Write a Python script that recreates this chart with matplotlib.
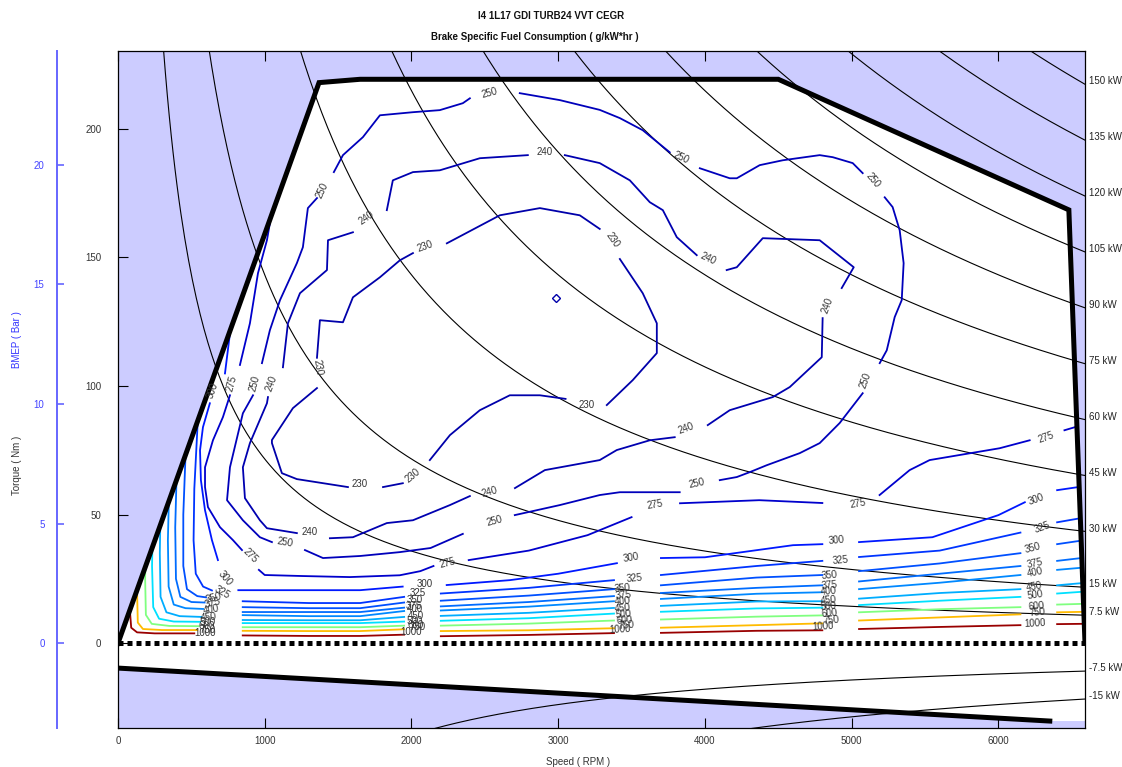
import numpy as np
import matplotlib.pyplot as plt
from matplotlib.patches import Polygon

plt.rcParams['font.family'] = ['Liberation Sans', 'DejaVu Sans']

# ---- engine envelope (rpm, Nm) ----
env_rpm = [0, 1370, 1650, 4500, 6480, 6590]
env_nm = [0, 218.0, 219.3, 219.3, 168.5, 0]
mot_rpm = [0, 6350]
mot_nm = [-9.7, -30.3]
nm_per_bar = 9.30

power_kw = [150, 135, 120, 105, 90, 75, 60, 45, 30, 15, 7.5, -7.5, -15]

# ---- BSFC iso-lines, (rpm, Nm) segments + label spots ----
iso_230 = [
    [(1356, 111), (1376, 125.6), (1533, 124.8), (1601, 134.5), (1785, 142.3), (1921, 148.9), (2010, 151.7)],
    [(2241, 155.5), (2602, 166.4), (2875, 169.2), (3147, 166.4), (3283, 161.1)],
    [(3420, 149.4), (3576, 136.1), (3672, 124.4), (3672, 112.8), (3508, 102.3), (3331, 92.6)],
    [(3050, 95.0), (2875, 96.4), (2670, 96.4), (2466, 90.6), (2262, 80.9), (2125, 71.2)],
    [(1941, 62.2), (1806, 60.7)],
    [(1567, 60.7), (1219, 63.8), (1117, 66.1), (1049, 77.8), (1049, 79), (1192, 91.4), (1356, 99.2)],
]
lab_230 = [(2091, 154.4, 20), (3372, 156.7, -55), (3195, 92.6, 0), (2010, 65.3, 40),
           (1649, 61.8, 0), (1362, 107.3, -80)]

iso_240 = [
    [(1124, 107.3), (1158, 124.4), (1240, 136.1), (1424, 145.1), (1431, 156.7), (1601, 159.8)],
    [(1832, 168.4), (1873, 180), (2010, 183.2), (2193, 183.9), (2466, 188.6), (2793, 189.8)],
    [(3045, 189.8), (3283, 186.7), (3488, 180), (3624, 171.5), (3713, 168.4), (3808, 157.9), (3944, 150.9)],
    [(4148, 145.1), (4217, 146.2), (4394, 157.5), (4782, 156.7), (5014, 146.2), (4932, 138.1)],
    [(4802, 126.4), (4796, 111.2), (4578, 99.6), (4462, 95.7), (4169, 90.6), (4019, 84.8)],
    [(3794, 80.1), (3624, 78.9), (3399, 75.1), (3283, 71.2), (2909, 67.3), (2705, 60.3)],
    [(2398, 57.2), (2262, 53.7), (2010, 47.8), (1832, 46.7), (1601, 41.2), (1444, 40.8)],
    [(1219, 42.8), (1015, 44.7), (967, 47.8), (865, 56.4), (851, 68.4), (899, 77.8), (1015, 93.3), (1022, 95.7)],
]
lab_240 = [(1696, 165.3, 35), (2909, 190.9, 0), (4019, 149.7, -25), (4837, 131.4, 70),
           (3869, 83.6, 20), (2534, 58.7, 15), (1308, 43.2, 0), (1049, 101.1, 70)]

iso_250 = [
    [(1356, 173.1), (1294, 169.2), (1260, 154), (1219, 147.8), (1104, 133.4), (1035, 121.7), (981, 108.9)],
    [(920, 96.4), (851, 89.4), (763, 68.4), (743, 55.6), (851, 47.8), (967, 41.2), (1049, 39.3)],
    [(1274, 36.2), (1397, 33.1), (1650, 33.9), (1920, 35.4), (2130, 37.0), (2350, 42.5)],
    [(2704, 49.8), (3011, 53.7), (3283, 57.6), (3420, 58.7), (3828, 58.7)],
    [(4101, 63.4), (4217, 64.6), (4305, 66.5), (4421, 69.2), (4646, 73.9), (4782, 77.8), (4918, 85.6), (5075, 97.2)],
    [(5191, 108.9), (5239, 113.9), (5293, 126.8), (5341, 133.4), (5354, 147.8), (5327, 160.6), (5279, 169.6), (5225, 173.4)],
    [(5075, 182.8), (5007, 186.7), (4871, 189), (4782, 189.8), (4530, 187.8), (4373, 185.9), (4217, 180.8), (4169, 180.8), (3965, 184.7)],
    [(3760, 190.9), (3576, 199.5), (3420, 204.2), (3283, 207.4), (3011, 211.2), (2738, 213.9)],
    [(2398, 211.9), (2350, 210), (2193, 207.3), (2010, 206.5), (1785, 205.3), (1669, 196.8), (1533, 189.8), (1471, 183.2)],
]
lab_250 = [(933, 101.1, 75), (1138, 39.3, -10), (2568, 47.4, 15), (3944, 62.2, 12), (5095, 102.3, 70),
           (5143, 180.1, -50), (3835, 189.0, -25), (2534, 213.9, 15), (1390, 176.2, 65)]

iso_275 = [
    [(1060, 175), (1035, 163.3), (1015, 156.7), (954, 143.9), (899, 124.4), (831, 108.2)],
    [(763, 96.4), (715, 87.9), (647, 78.9), (593, 68.4), (593, 60.7), (613, 52.9), (695, 45.1), (783, 40.1), (845, 36.2)],
    [(960, 28.5), (1000, 26.5), (1260, 26.1), (1580, 25.7), (1920, 26.4), (2060, 28.0), (2150, 30.0)],
    [(2390, 32.3), (2800, 36.0), (3200, 42.0), (3500, 49.0)],
    [(3830, 54.4), (4370, 55.6), (4800, 54.5)],
    [(5190, 57.6), (5395, 67.3), (5531, 71.2), (6008, 75.8), (6213, 78.9)],
    [(6450, 82.8), (6700, 87.0)],
]
lab_275 = [(777, 101.1, 75), (899, 34.2, -45), (2248, 31.1, 15), (3658, 53.7, 10),
           (5041, 54.4, 10), (6322, 80.1, 20)]

iso_300 = [
    [(790, 135), (763, 120.5), (729, 104.9)],
    [(626, 93.3), (579, 84), (559, 75), (565, 63.4), (593, 51.7), (640, 40.1), (681, 32.3)],
    [(820, 20.6), (1000, 20.6), (1650, 20.6), (1940, 22.0)],
    [(2240, 22.6), (2670, 24.5), (3000, 27.0), (3400, 31.1)],
    [(3700, 33.1), (4000, 33.4), (4600, 38.1), (4800, 38.5)],
    [(5050, 39.3), (5550, 41.2), (6000, 49.8), (6180, 54.8)],
    [(6400, 59.5), (6700, 62.0)],
]
lab_300 = [(647, 98.4, 70), (729, 25.3, -50), (2091, 22.9, 0), (3495, 33.1, 10),
           (4898, 40.1, 5), (6260, 56.0, 20)]

# lower family: left hook + five stretches between the label columns
iso_325 = [
    [(545, 88), (520, 60), (515, 40), (530, 27), (580, 22), (640, 20.5)],
    [(850, 16.3), (1300, 15.6), (1650, 15.6), (1950, 18.0)],
    [(2200, 19.3), (2800, 21.5), (3380, 24.5)],
    [(3700, 26.5), (4350, 30.0), (4800, 32.0)],
    [(5050, 33.5), (5600, 36.0), (6150, 43.0)],
    [(6400, 47.0), (6700, 50.0)],
]
lab_325 = [(708, 19.8, -30), (2044, 19.4, 0), (3522, 25.3, 5), (4925, 32.3, 5), (6301, 45.1, 20)]

iso_350 = [
    [(470, 88), (445, 50), (445, 30), (470, 21), (540, 18.3), (600, 17.8)],
    [(850, 14.0), (1300, 13.6), (1650, 13.6), (1950, 15.8)],
    [(2200, 16.5), (2800, 18.5), (3380, 21.0)],
    [(3700, 22.5), (4350, 25.5), (4800, 26.5)],
    [(5050, 28.0), (5600, 31.0), (6150, 35.0)],
    [(6400, 38.5), (6700, 41.0)],
]
lab_350 = [(654, 17.5, 15), (2023, 16.7, 0), (3440, 21.4, 5), (4850, 26.4, 5), (6233, 36.9, 15)]

iso_375 = [
    [(410, 88), (390, 45), (395, 25), (425, 18), (500, 16.0), (590, 15.8)],
    [(850, 12.1), (1300, 12.1), (1650, 12.1), (1950, 13.8)],
    [(2200, 14.3), (2800, 16.0), (3380, 18.3)],
    [(3700, 19.5), (4350, 21.5), (4800, 22.5)],
    [(5050, 24.0), (5600, 27.0), (6150, 30.0)],
    [(6400, 32.0), (6700, 34.0)],
]
lab_375 = [(647, 15.6, 15), (2016, 14.4, 0), (3447, 18.7, 5), (4850, 22.6, 5), (6247, 31.1, 12)]

iso_400 = [
    [(360, 88), (340, 40), (345, 22), (380, 15), (460, 13.6), (580, 13.3)],
    [(850, 10.9), (1300, 10.5), (1650, 10.5), (1950, 12.5)],
    [(2200, 12.7), (2800, 14.2), (3380, 16.3)],
    [(3700, 17.2), (4350, 19.2), (4800, 19.8)],
    [(5050, 21.0), (5600, 23.5), (6150, 26.5)],
    [(6400, 28.5), (6700, 30.0)],
]
lab_400 = [(634, 13.2, 10), (2023, 13.2, 0), (3440, 16.3, 5), (4843, 20.2, 5), (6247, 27.6, 12)]

iso_450 = [
    [(300, 88), (285, 35), (290, 18), (330, 12), (420, 10.5), (570, 10.2)],
    [(850, 9.0), (1300, 8.9), (1650, 8.9), (1950, 10.2)],
    [(2200, 10.6), (2800, 11.8), (3380, 13.7)],
    [(3700, 14.5), (4350, 16.2), (4800, 16.3)],
    [(5050, 17.3), (5600, 19.5), (6150, 21.0)],
    [(6400, 22.5), (6700, 24.0)],
]
lab_450 = [(620, 10.1, 5), (2030, 10.5, 0), (3440, 13.6, 5), (4843, 16.7, 5), (6247, 21.8, 10)]

iso_500 = [
    [(250, 88), (232, 30), (240, 14), (280, 9.5), (380, 8.4), (560, 8.3)],
    [(850, 7.8), (1300, 7.8), (1650, 7.8), (1950, 8.4)],
    [(2200, 8.7), (2800, 9.7), (3380, 11.5)],
    [(3700, 12.2), (4350, 13.5), (4800, 13.8)],
    [(5050, 14.8), (5600, 16.5), (6150, 18.0)],
    [(6400, 19.3), (6700, 20.5)],
]
lab_500 = [(613, 8.2, 0), (2023, 8.6, 0), (3447, 11.3, 5), (4843, 14.4, 5), (6247, 18.7, 8)]

iso_600 = [
    [(200, 88), (185, 25), (190, 11), (230, 7.5), (350, 6.7), (550, 6.6)],
    [(850, 6.2), (1300, 6.2), (1650, 6.2), (1950, 6.8)],
    [(2200, 6.8), (2800, 7.6), (3380, 8.8)],
    [(3700, 9.2), (4350, 10.3), (4800, 10.8)],
    [(5050, 12.0), (5600, 13.2), (6150, 14.0)],
    [(6400, 15.0), (6700, 15.5)],
]
lab_600 = [(606, 6.6, 0), (2030, 7.0, 0), (3454, 8.9, 5), (4850, 11.7, 5), (6260, 14.4, 5)]

iso_750 = [
    [(150, 88), (130, 20), (135, 8), (170, 5.5), (300, 5.1), (540, 5.1)],
    [(850, 4.8), (1300, 4.7), (1650, 4.7), (1950, 5.4)],
    [(2200, 4.7), (2800, 5.0), (3380, 5.8)],
    [(3700, 6.0), (4350, 7.0), (4800, 7.7)],
    [(5050, 8.8), (5600, 10.0), (6150, 11.2)],
    [(6400, 12.0), (6700, 12.3)],
]
lab_750 = [(613, 5.1, 0), (2044, 6.2, 0), (3467, 7.0, 5), (4864, 8.9, 5), (6267, 12.1, 5)]

iso_1000 = [
    [(95, 88), (82, 12), (90, 6), (130, 4.2), (250, 3.8), (520, 3.8)],
    [(850, 3.0), (1300, 2.8), (1650, 2.8), (1950, 3.3)],
    [(2200, 2.7), (2800, 3.2), (3380, 3.9)],
    [(3700, 4.0), (4350, 4.8), (4800, 5.0)],
    [(5050, 5.5), (5600, 6.3), (6150, 7.0)],
    [(6400, 7.4), (6700, 7.6)],
]
lab_1000 = [(593, 3.9, 0), (1996, 4.3, 0), (3420, 5.4, 3), (4802, 6.6, 3), (6247, 7.8, 3)]

bsfc_min = (2984, 134.2)

levels = [230, 240, 250, 275, 300, 325, 350, 375, 400, 450, 500, 600, 750, 1000]
level_colors = ['#0000aa', '#0000b0', '#0000bb', '#0000cc', '#0018ff', '#0034ff', '#0050ff',
                '#006cff', '#0088ff', '#00adff', '#00e0ff', '#80ff80', '#ffbb00', '#990000']
iso_lines = [iso_230, iso_240, iso_250, iso_275, iso_300, iso_325, iso_350, iso_375,
             iso_400, iso_450, iso_500, iso_600, iso_750, iso_1000]
iso_labels = [lab_230, lab_240, lab_250, lab_275, lab_300, lab_325, lab_350, lab_375,
              lab_400, lab_450, lab_500, lab_600, lab_750, lab_1000]

# ---- figure ----
W, H = 1122, 767
fig = plt.figure(figsize=(W / 100, H / 100), dpi=100)
ax = fig.add_axes([118 / W, 1 - 728 / H, (1085 - 118) / W, (728 - 51) / H])
ax.set_xlim(0, 6590)
ax.set_ylim(-33.0, 230.3)
ax.set_facecolor('#ccccff')

env_pts = list(zip(env_rpm, env_nm))
ax.add_patch(Polygon(env_pts, closed=True, facecolor='white', edgecolor='none', zorder=0.5))
low_pts = [(0, 0), (6590, 0), (6590, mot_nm[1]), (mot_rpm[1], mot_nm[1]), (0, mot_nm[0])]
ax.add_patch(Polygon(low_pts, closed=True, facecolor='white', edgecolor='none', zorder=0.5))

# constant power lines
rpm = np.linspace(20, 6590, 500)
omega = rpm * 2 * np.pi / 60
for p in power_kw:
    ax.plot(rpm, p * 1000 / omega, color='black', lw=0.8, zorder=2)
    t_end = p * 1000 / (6590 * 2 * np.pi / 60)
    ax.annotate(f'{p:g} kW', xy=(6590, t_end), xytext=(3, 2), textcoords='offset points',
                ha='left', va='center', fontsize=7, color='#222222', annotation_clip=False)

# BSFC iso-lines, clipped to the full-load envelope
clip = Polygon(env_pts, closed=True, transform=ax.transData)
for lev, col, segs, labs in zip(levels, level_colors, iso_lines, iso_labels):
    for seg in segs:
        r, t = zip(*seg)
        ln, = ax.plot(r, t, color=col, lw=1.3, zorder=3, solid_joinstyle='round')
        ln.set_clip_path(clip)
    for r, t, rot in labs:
        ax.text(r, t, str(lev), rotation=rot, rotation_mode='anchor', ha='center', va='center',
                fontsize=7, color='#333333', zorder=5)
ax.plot([bsfc_min[0]], [bsfc_min[1]], marker='D', ms=4, mfc='none', mec='#0000aa', mew=1.0, zorder=3)

# envelope, zero line and motoring line
ax.plot(env_rpm, env_nm, color='black', lw=3.6, zorder=4, solid_joinstyle='miter')
ax.plot([0, 6590], [0, 0], color='black', lw=3.6, ls=(0, (1, 0.8)), zorder=4)
ax.plot(mot_rpm, mot_nm, color='black', lw=3.6, zorder=4)

ax.set_xticks(range(0, 7000, 1000))
ax.set_yticks([0, 50, 100, 150, 200])
ax.tick_params(direction='in', top=True, right=True, length=7, width=0.8,
               labelsize=7, labelcolor='#333333')
ax.tick_params(axis='y', pad=12)
ax.tick_params(axis='x', pad=6)
for s in ax.spines.values():
    s.set_linewidth(0.9)

# BMEP axis
ax2 = ax.twinx()
ax2.set_ylim(ax.get_ylim()[0] / nm_per_bar, ax.get_ylim()[1] / nm_per_bar)
ax2.yaxis.set_ticks_position('left')
for k in ['right', 'top', 'bottom']:
    ax2.spines[k].set_visible(False)
ax2.spines['left'].set_position(('outward', 61 * 72 / 100))
ax2.spines['left'].set_color('#6666ff')
ax2.spines['left'].set_linewidth(1.4)
ax2.set_yticks([0, 5, 10, 15, 20])
ax2.tick_params(axis='y', direction='in', length=5, width=1.2, color='#6666ff',
                labelsize=7, labelcolor='#4444ff', pad=9)

fig.text(17 / W, 1 - 465 / H, 'Torque ( Nm )', rotation=90, ha='center', va='center', fontsize=7, color='#333333')
fig.text(17 / W, 1 - 340 / H, 'BMEP ( Bar )', rotation=90, ha='center', va='center', fontsize=7, color='#3333ff')
fig.text(578 / W, 1 - 762 / H, 'Speed ( RPM )', ha='center', va='center', fontsize=7, color='#333333')
fig.text(551 / W, 1 - 16 / H, 'I4 1L17 GDI TURB24 VVT CEGR', ha='center', va='center',
         fontsize=7, fontweight='bold', color='#111111')
fig.text(535 / W, 1 - 37 / H, 'Brake Specific Fuel Consumption ( g/kW*hr )', ha='center', va='center',
         fontsize=7, fontweight='bold', color='#111111')

fig.savefig('out.png', dpi=100)
